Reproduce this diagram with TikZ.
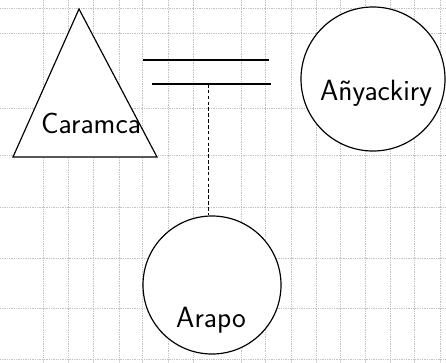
\documentclass[tikz,border=0pt]{standalone}
\usepackage{tikz}
\usetikzlibrary{positioning}
\definecolor{gridgray}{HTML}{9A9A9A}

\begin{document}
\begin{tikzpicture}[font=\sffamily\fontsize{25}{30}\selectfont,x=.03cm,y=-.03cm,
  person/.style={circle,draw,line width=1pt,inner sep=0pt,minimum size=#1},
  bond/.style={line width=1.4pt},
  gridline/.style={gridgray!60,densely dotted,line width=.5pt}]
\useasboundingbox (0,0) rectangle (446,363);
% graph paper
\foreach \gx in {43,68,93,119,142,168,193,241,265,291,316,340,365,390,414,440}
  \draw[gridline] (\gx,0) -- (\gx,363);
\foreach \gy in {8,33,108,155,207,258,308,359}
  \draw[gridline] (0,\gy) -- (446,\gy);
% father
\coordinate (apex) at (79,9);
\coordinate (baseL) at (13,157);
\coordinate (baseR) at (157,157);
\draw[line width=1pt,fill=white] (apex) -- (baseL) -- (baseR) -- cycle;
\node (father) at (91,123) {Caramca};
% mother
\node[person=4.32cm,fill=white] (mother) at (373,79) {};
\node (mothername) at (376,93) {Añyackiry};
% marriage
\coordinate (bondA) at (143,60);
\coordinate (bondB) at (269,60);
\coordinate (bondC) at (152,84);
\coordinate (bondD) at (271,84);
\draw[bond] (bondA) -- (bondB);
\draw[bond] (bondC) -- (bondD);
% child
\node[person=4.14cm,fill=white] (child) at (212,285) {};
\node (childname) at (211,320) {Arapo};
\coordinate (drop) at (208,84);
\draw[densely dashed,line width=.8pt] (drop) -- (drop |- child.north);
\end{tikzpicture}
\end{document}
